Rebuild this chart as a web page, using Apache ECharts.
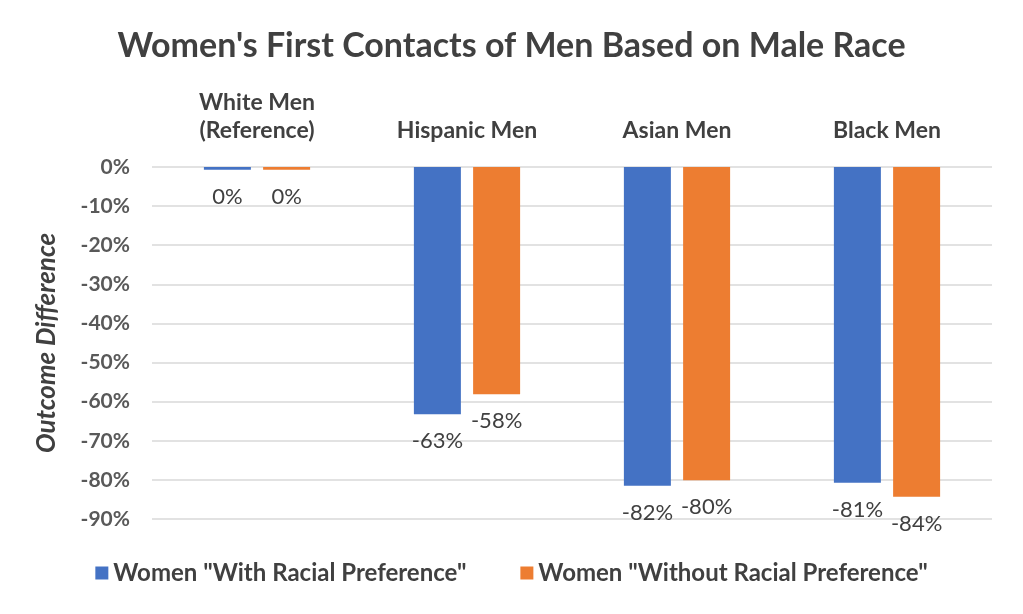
<!DOCTYPE html>
<html>
<head>
<meta charset="utf-8">
<script src="https://cdn.jsdelivr.net/npm/echarts@6/dist/echarts.min.js"></script>
<style>
html,body{margin:0;padding:0;background:#fff;}
#chart{width:1023px;height:614px;}
</style>
</head>
<body>
<div id="chart"></div>
<script>
var categories = ["White Men\n(Reference)", "Hispanic Men", "Asian Men", "Black Men"];
var withPref = [-0.7, -63.2, -81.5, -80.7];
var withoutPref = [-0.7, -58.1, -80.1, -84.3];
var withLabels = ["0%", "-63%", "-82%", "-81%"];
var withoutLabels = ["0%", "-58%", "-80%", "-84%"];
var seriesNames = ['Women "With Racial Preference"', 'Women "Without Racial Preference"'];

var FONT = 'Lato, "Open Sans", sans-serif';
var chart = echarts.init(document.getElementById('chart'));
function labelCfg(arr) {
  return {
    show: true,
    position: 'bottom',
    distance: 16,
    fontFamily: FONT,
    fontSize: 22,
    color: '#404040',
    formatter: function (p) { return arr[p.dataIndex]; }
  };
}
chart.setOption({
  animation: false,
  backgroundColor: '#ffffff',
  title: {
    text: "Women's First Contacts of Men Based on Male Race",
    left: 'center',
    top: 24,
    textStyle: { fontFamily: FONT, fontSize: 34, fontWeight: 'bold', color: '#404040' }
  },
  legend: {
    bottom: 24,
    left: 'center',
    itemWidth: 13,
    itemHeight: 13,
    itemGap: 54,
    icon: 'rect',
    textStyle: { fontFamily: FONT, fontSize: 24, fontWeight: 'bold', color: '#404040' },
    data: seriesNames
  },
  grid: { left: 152, right: 31, top: 167, bottom: 95 },
  xAxis: {
    type: 'category',
    position: 'top',
    data: categories,
    axisLine: { show: false },
    axisTick: { show: false },
    axisLabel: {
      fontFamily: FONT, fontSize: 23, fontWeight: 'bold', color: '#404040',
      lineHeight: 28, margin: 22
    }
  },
  yAxis: {
    type: 'value',
    min: -90,
    max: 0,
    interval: 10,
    name: 'Outcome Difference',
    nameLocation: 'middle',
    nameGap: 92,
    nameTextStyle: { fontFamily: FONT, fontSize: 26, fontWeight: 'bold', fontStyle: 'italic', color: '#404040' },
    axisLine: { show: false },
    axisTick: { show: false },
    axisLabel: {
      fontFamily: FONT, fontSize: 21, fontWeight: 'bold', color: '#595959', margin: 22,
      formatter: function (v) { return Math.round(v) + '%'; }
    },
    splitLine: { lineStyle: { color: '#d9d9d9', width: 1.5 } }
  },
  series: [
    {
      name: seriesNames[0], type: 'bar', data: withPref,
      barWidth: 47, barGap: '26%',
      itemStyle: { color: '#4472c4' },
      label: labelCfg(withLabels)
    },
    {
      name: seriesNames[1], type: 'bar', data: withoutPref,
      barWidth: 47,
      itemStyle: { color: '#ed7d31' },
      label: labelCfg(withoutLabels)
    }
  ]
});
</script>
</body>
</html>
